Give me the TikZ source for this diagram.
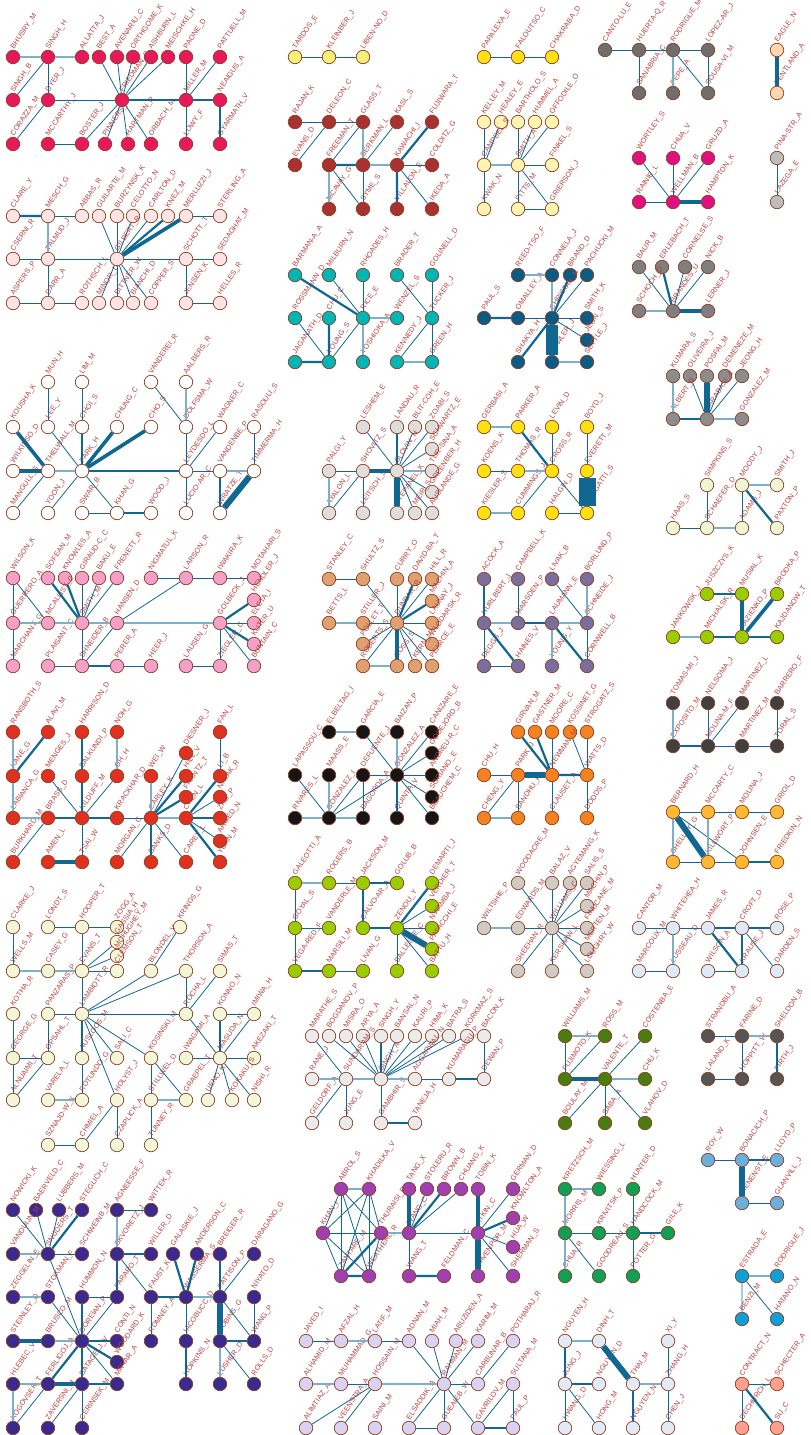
\documentclass[tikz,border=0pt]{standalone}
\usepackage{fontspec}
\setmainfont{Liberation Sans}
\definecolor{ndraw}{RGB}{140,62,30}
\definecolor{labcol}{RGB}{186,62,62}
\definecolor{edgec}{RGB}{16,104,146}
\definecolor{edgep}{RGB}{124,176,200}
\definecolor{crimson}{RGB}{232,25,90}
\definecolor{pinkpale}{RGB}{255,228,230}
\definecolor{lemon}{RGB}{244,238,122}
\definecolor{gold}{RGB}{255,224,16}
\definecolor{greyE}{RGB}{110,110,110}
\definecolor{peach}{RGB}{255,216,176}
\definecolor{darkred}{RGB}{168,50,50}
\definecolor{cream}{RGB}{255,244,176}
\definecolor{magenta}{RGB}{224,16,127}
\definecolor{greyJ}{RGB}{189,189,189}
\definecolor{cyanK}{RGB}{0,181,181}
\definecolor{navyL}{RGB}{10,92,133}
\definecolor{greyM}{RGB}{127,127,127}
\definecolor{pinkO}{RGB}{245,160,200}
\definecolor{greyP}{RGB}{222,222,222}
\definecolor{greyR}{RGB}{140,140,140}
\definecolor{mintS}{RGB}{238,247,213}
\definecolor{lime}{RGB}{154,205,0}
\definecolor{tan}{RGB}{224,160,112}
\definecolor{mauve}{RGB}{122,110,158}
\definecolor{redW}{RGB}{224,48,32}
\definecolor{creamX}{RGB}{243,247,217}
\definecolor{blackY}{RGB}{21,21,21}
\definecolor{orangeZ}{RGB}{245,130,32}
\definecolor{greyAA}{RGB}{64,64,64}
\definecolor{amber}{RGB}{255,184,51}
\definecolor{iceblue}{RGB}{220,235,247}
\definecolor{stone}{RGB}{207,203,197}
\definecolor{greyAF}{RGB}{235,235,235}
\definecolor{forest}{RGB}{74,125,16}
\definecolor{greyAH}{RGB}{85,85,85}
\definecolor{indigo}{RGB}{58,42,144}
\definecolor{purple}{RGB}{160,64,176}
\definecolor{green}{RGB}{16,160,85}
\definecolor{lavender}{RGB}{218,210,242}
\definecolor{paleblue}{RGB}{226,234,247}
\definecolor{steel}{RGB}{106,176,218}
\definecolor{azure}{RGB}{16,160,216}
\definecolor{salmon}{RGB}{255,159,143}

\begin{document}
\catcode`\_=12
\begin{tikzpicture}[x=1pt, y=-1pt,
  au/.style={circle, draw=ndraw, line width=0.7pt, fill=#1,
    minimum size=13.5pt, inner sep=0pt},
  lab/.style={rotate=56, anchor=south west, inner sep=0pt,
    font=\fontsize{7.3}{7.3}\selectfont, text=labcol},
  e/.style={draw=edgec, line width=0.8pt},
  ep/.style={draw=edgep, line width=1.6pt},
  ew/.style={draw=edgec, line width=2.2pt},
  ewx/.style={draw=edgec, line width=3.6pt},
  ewxx/.style={draw=edgec, line width=6pt}
]
\useasboundingbox (0,0) rectangle (811,1435);

% ---- crimson group
\foreach \n/\x/\y in {BHUSRY_M/13/57, SINGH_H/48/57, ALLATTA_J/82/57, BEST_A/99/57,
  AVENARIU_C/117/57, ORTHGOME_K/133/57, ASHBURN_L/151/57, MEISCHKE_H/168/57,
  PAONE_D/186/57, PATTUELL_M/220/57, SINGH_B/13/100, DYER_J/48/100,
  FRIEDMAN_S/122/100, MILLER_M/186/100, NEAIGUS_A/220/100, CORAZZA_M/13/144,
  MCCARTHY_J/48/144, BOSTER_J/82/144, PINNERS_L/105/144, HARTMAN_R/128/144,
  ORBACH_M/151/144, LOWY_F/186/144, GYARMATH_V/220/144}
  \node[au=crimson, label={[lab]70:\n}] (\n) at (\x,\y) {};
\foreach \a/\b in {SINGH_H/SINGH_B, SINGH_H/DYER_J, DYER_J/CORAZZA_M, DYER_J/FRIEDMAN_S,
  FRIEDMAN_S/BEST_A, FRIEDMAN_S/AVENARIU_C, FRIEDMAN_S/ORTHGOME_K, FRIEDMAN_S/ASHBURN_L,
  FRIEDMAN_S/MEISCHKE_H, FRIEDMAN_S/BOSTER_J, FRIEDMAN_S/PINNERS_L, FRIEDMAN_S/HARTMAN_R,
  FRIEDMAN_S/ORBACH_M, MCCARTHY_J/BOSTER_J, PAONE_D/MILLER_M, MILLER_M/PATTUELL_M,
  MILLER_M/LOWY_F}
  \draw[e] (\a) -- (\b);
\foreach \a/\b in {BHUSRY_M/SINGH_H, SINGH_H/ALLATTA_J} \draw[ep] (\a) -- (\b);
\foreach \a/\b in {FRIEDMAN_S/MILLER_M, MILLER_M/NEAIGUS_A, NEAIGUS_A/GYARMATH_V}
  \draw[ew] (\a) -- (\b);

% ---- pale pink group
\foreach \n/\x/\y in {CLARE_Y/13/216, MESCH_G/48/216, ABBAS_R/82/216, GUILARTE_M/99/216,
  BURZYNSK_K/117/216, CELOTTO_N/133/216, CARLTON_D/151/216, KNEZ_M/168/216,
  MERLUZZI_J/186/216, STERLING_A/220/216, CSERNI_R/13/259, TALMUD_J/48/259,
  GILBERT_R/117/259, SCHOTT_T/186/259, SEDAGHAT_M/220/259, ASPERS_P/13/303,
  DARR_A/48/303, ROTHSCH_L/82/303, MINOR_D/99/303, BITTNER_W/117/303,
  BIANCHI_D/133/303, COPPER_S/151/303, JENSEN_K/186/303, HELLES_R/220/303}
  \node[au=pinkpale, label={[lab]70:\n}] (\n) at (\x,\y) {};
\foreach \a/\b in {MESCH_G/ABBAS_R, CSERNI_R/TALMUD_J, TALMUD_J/GILBERT_R, TALMUD_J/DARR_A,
  ASPERS_P/DARR_A, DARR_A/ROTHSCH_L, GILBERT_R/GUILARTE_M, GILBERT_R/BURZYNSK_K,
  GILBERT_R/CELOTTO_N, GILBERT_R/CARLTON_D, GILBERT_R/SCHOTT_T, GILBERT_R/MINOR_D,
  GILBERT_R/BITTNER_W, GILBERT_R/BIANCHI_D, GILBERT_R/COPPER_S, MERLUZZI_J/STERLING_A,
  SCHOTT_T/SEDAGHAT_M, SCHOTT_T/JENSEN_K, JENSEN_K/HELLES_R}
  \draw[e] (\a) -- (\b);
\draw[ep] (MESCH_G) -- (TALMUD_J);
\draw[ew] (CLARE_Y) -- (MESCH_G) (GILBERT_R) -- (KNEZ_M);
\draw[ewx] (GILBERT_R) -- (MERLUZZI_J);

% ---- small top groups
\foreach \n/\x/\y in {TARDOS_E/295/57, KLEINBER_J/329/57, LIBEN-NO_D/363/57}
  \node[au=lemon, label={[lab]70:\n}] (\n) at (\x,\y) {};
\draw[e] (TARDOS_E) -- (KLEINBER_J) (KLEINBER_J) -- (LIBEN-NO_D);
\foreach \n/\x/\y in {PAPALEXA_E/484/57, FALOUTSO_C/518/57, CHAKRABA_D/552/57}
  \node[au=gold, label={[lab]70:\n}] (\n) at (\x,\y) {};
\draw[e] (PAPALEXA_E) -- (FALOUTSO_C) (FALOUTSO_C) -- (CHAKRABA_D);
\foreach \n/\x/\y in {CANTO-LU_E/605/50, HUERTA-Q_R/639/50, RODRIGUE_M/673/50,
  LOPEZ-AR_J/708/50, SANABRIA_C/639/93, PEPE_A/673/93, SOUSA-VI_M/708/93}
  \node[au=greyE, label={[lab]70:\n}] (\n) at (\x,\y) {};
\foreach \a/\b in {CANTO-LU_E/HUERTA-Q_R, HUERTA-Q_R/RODRIGUE_M, RODRIGUE_M/LOPEZ-AR_J,
  HUERTA-Q_R/SANABRIA_C, RODRIGUE_M/SOUSA-VI_M, LOPEZ-AR_J/SOUSA-VI_M}
  \draw[e] (\a) -- (\b);
\draw[ep] (RODRIGUE_M) -- (PEPE_A);
\foreach \n/\x/\y in {EAGLE_N/777/50, PENTLAND_A/777/93}
  \node[au=peach, label={[lab]70:\n}] (\n) at (\x,\y) {};
\draw[ewx] (EAGLE_N) -- (PENTLAND_A);

% ---- dark red group
\foreach \n/\x/\y in {RAJAN_K/295/122, DELEON_C/329/122, GLASS_T/363/122, KASL_S/397/122,
  FUJIWARA_T/432/122, EVANS_D/295/165, FREEMAN_T/329/165, BERKMAN_L/363/165,
  KAWACHI_I/397/165, COLDITZ_G/432/165, MCAVAY_G/329/209, SYME_S/363/209,
  VILLALON_E/397/209, IKEDA_A/432/209}
  \node[au=darkred, label={[lab]70:\n}] (\n) at (\x,\y) {};
\foreach \a/\b in {RAJAN_K/DELEON_C, DELEON_C/GLASS_T, DELEON_C/EVANS_D, GLASS_T/FREEMAN_T,
  FREEMAN_T/SYME_S, BERKMAN_L/SYME_S, BERKMAN_L/KASL_S, KAWACHI_I/COLDITZ_G,
  KAWACHI_I/IKEDA_A}
  \draw[e] (\a) -- (\b);
\foreach \a/\b in {GLASS_T/BERKMAN_L, FREEMAN_T/MCAVAY_G, BERKMAN_L/KAWACHI_I}
  \draw[ep] (\a) -- (\b);
\draw[ew] (FREEMAN_T) -- (BERKMAN_L) (KAWACHI_I) -- (FUJIWARA_T) (KAWACHI_I) -- (VILLALON_E);

% ---- cream group
\foreach \n/\x/\y in {KELLEY_M/484/122, HEALEY_E/501/122, BARTHOLO_S/518/122,
  HUMMEL_A/535/122, OFFODILE_O/552/122, CAMPBEL_S/484/165, SMITH_A/518/165,
  FINKEL_S/552/165, KWAK_N/484/209, PITTS_M/518/209, GRIERSON_J/552/209}
  \node[au=cream, label={[lab]70:\n}] (\n) at (\x,\y) {};
\foreach \a/\b in {KELLEY_M/CAMPBEL_S, CAMPBEL_S/HEALEY_E, CAMPBEL_S/KWAK_N,
  BARTHOLO_S/SMITH_A, SMITH_A/HUMMEL_A, SMITH_A/OFFODILE_O, SMITH_A/FINKEL_S,
  SMITH_A/PITTS_M, SMITH_A/GRIERSON_J, PITTS_M/GRIERSON_J}
  \draw[e] (\a) -- (\b);
\draw[ep] (CAMPBEL_S) -- (SMITH_A);

% ---- magenta and grey pairs
\foreach \n/\x/\y in {WORTLEY_S/639/158, CHUA_V/673/158, GRUZD_A/708/158,
  RAINIE_L/639/202, WELLMAN_B/673/202, HAMPTON_K/708/202}
  \node[au=magenta, label={[lab]70:\n}] (\n) at (\x,\y) {};
\foreach \a/\b in {WELLMAN_B/WORTLEY_S, WELLMAN_B/CHUA_V, WELLMAN_B/GRUZD_A,
  WELLMAN_B/RAINIE_L}
  \draw[e] (\a) -- (\b);
\draw[ewx] (WELLMAN_B) -- (HAMPTON_K);
\foreach \n/\x/\y in {PINA-STR_A/777/158, LAZEGA_E/777/202}
  \node[au=greyJ, label={[lab]70:\n}] (\n) at (\x,\y) {};
\draw[e] (PINA-STR_A) -- (LAZEGA_E);

% ---- cyan group
\foreach \n/\x/\y in {BARMAN-A_A/295/275, MILBURN_N/329/275, RHOADES_H/363/275,
  BRADER_T/397/275, GOLINELL_D/432/275, ROSSMANN_D/295/318, CHU_C/329/318,
  RICE_E/363/318, WENZEL_S/397/318, TUCKER_J/432/318, JAGANATH_D/295/362,
  YOUNG_S/329/362, YOSHIOKA_A/363/362, KENNEDY_J/397/362, GREEN_H/432/362}
  \node[au=cyanK, label={[lab]70:\n}] (\n) at (\x,\y) {};
\foreach \a/\b in {MILBURN_N/RICE_E, RHOADES_H/RICE_E, BRADER_T/TUCKER_J,
  GOLINELL_D/TUCKER_J, ROSSMANN_D/YOUNG_S, YOUNG_S/RICE_E, KENNEDY_J/TUCKER_J,
  TUCKER_J/GREEN_H}
  \draw[e] (\a) -- (\b);
\foreach \a/\b in {RICE_E/WENZEL_S, RICE_E/YOSHIOKA_A, KENNEDY_J/GREEN_H}
  \draw[ep] (\a) -- (\b);
\draw[ew] (BARMAN-A_A) -- (RICE_E) (CHU_C) -- (YOUNG_S) (JAGANATH_D) -- (YOUNG_S);

% ---- navy group
\foreach \n/\x/\y in {REED-TSO_F/518/275, CONNELA_J/552/275, BRAND_D/570/275,
  PACHUCKI_M/587/275, PAUL_S/484/318, OMALLEY_A/518/318, CHRISTAK_N/552/318,
  SMITH_K/587/318, JEON_S/587/340, SHAKYA_H/518/362, FOWLER_J/552/362, SETTLE_J/587/362}
  \node[au=navyL, label={[lab]70:\n}] (\n) at (\x,\y) {};
\foreach \a/\b in {CHRISTAK_N/PACHUCKI_M, OMALLEY_A/CHRISTAK_N, CHRISTAK_N/SMITH_K,
  CHRISTAK_N/JEON_S}
  \draw[e] (\a) -- (\b);
\foreach \a/\b in {REED-TSO_F/CONNELA_J, CONNELA_J/CHRISTAK_N, FOWLER_J/SETTLE_J}
  \draw[ep] (\a) -- (\b);
\draw[ew] (PAUL_S) -- (OMALLEY_A) (CHRISTAK_N) -- (BRAND_D) (SHAKYA_H) -- (CHRISTAK_N);
\draw[e, line width=12pt] (CHRISTAK_N) -- (FOWLER_J);

% ---- grey brandes group
\foreach \n/\x/\y in {BAUR_M/639/267, ERLEBACH_T/662/267, CORNELSE_S/685/267,
  NICK_B/708/267, SCHOCH_D/639/311, BRANDES_U/673/311, LERNER_J/708/311}
  \node[au=greyM, label={[lab]70:\n}] (\n) at (\x,\y) {};
\foreach \a/\b in {BRANDES_U/BAUR_M, BRANDES_U/CORNELSE_S, BRANDES_U/NICK_B}
  \draw[e] (\a) -- (\b);
\draw[ep] (BRANDES_U) -- (SCHOCH_D);
\draw[ew] (BRANDES_U) -- (ERLEBACH_T);
\draw[ewx] (BRANDES_U) -- (LERNER_J);

% ---- white group
\foreach \n/\x/\y in {MUN_H/48/382, LIM_M/82/382, VANDEREI_R/151/382, AALBERS_R/186/382,
  KOUSHA_K/13/427, LEE_Y/48/427, CHOI_S/82/427, CHUNG_C/117/427, CHO_S/151/427,
  DOLFSMA_W/186/427, WAGNER_C/220/427, RASOULI_S/254/427, WILKINSO_D/13/471,
  THELWALL_M/48/471, PARK_H/82/471, LEYDESDO_L/186/471, VANDENBE_P/220/471,
  TIMMERMA_H/254/471, MANGULL_S/13/513, YOON_J/48/513, SWAR_B/82/513, KHAN_G/117/513,
  WOOD_J/151/513, LUCIO-AR_C/186/513, WRATZE_T/220/513}
  \node[au=white, label={[lab]70:\n}] (\n) at (\x,\y) {};
\foreach \a/\b in {MUN_H/LEE_Y, LEE_Y/PARK_H, LIM_M/CHOI_S, MANGULL_S/THELWALL_M,
  YOON_J/PARK_H, PARK_H/KHAN_G, SWAR_B/KHAN_G, VANDEREI_R/DOLFSMA_W, DOLFSMA_W/LEYDESDO_L,
  LEYDESDO_L/WAGNER_C, LEYDESDO_L/VANDENBE_P, LEYDESDO_L/LUCIO-AR_C, RASOULI_S/TIMMERMA_H}
  \draw[e] (\a) -- (\b);
\foreach \a/\b in {THELWALL_M/PARK_H, AALBERS_R/DOLFSMA_W, VANDENBE_P/TIMMERMA_H}
  \draw[ep] (\a) -- (\b);
\foreach \a/\b in {CHOI_S/PARK_H, KHAN_G/WOOD_J, PARK_H/LEYDESDO_L, VANDENBE_P/WRATZE_T}
  \draw[ew] (\a) -- (\b);
\foreach \a/\b in {KOUSHA_K/THELWALL_M, WILKINSO_D/THELWALL_M, CHUNG_C/PARK_H, CHO_S/PARK_H}
  \draw[ewx] (\a) -- (\b);
\draw[ewxx] (TIMMERMA_H) -- (WRATZE_T);

% ---- pink group
\foreach \n/\x/\y in {WILSON_K/13/578, SOFEAN_M/48/578, KNOWLES_A/65/578,
  GIRAUD-C_C/82/578, BAKU_E/99/578, FRENETT_R/117/578, NIGMATUL_K/151/578,
  LARSON_R/186/578, IWAKIRA_K/220/578, MOTAHARI_S/254/578, HENDLER_J/254/600,
  GUERRERO_A/13/623, MCALLIST_C/48/623, SMITH_M/82/623, HANSEN_D/117/623,
  GOLBECK_J/220/623, ELETA_I/254/623, KUTER_U/254/644, MARCHANT_G/13/666,
  PLAISANT_C/48/666, SHNEIDER_B/82/666, PERER_A/117/666, HEER_J/151/666,
  LAUSEN_G/186/666, ZIEGLER_C/220/666, BUNTAIN_C/254/666}
  \node[au=pinkO, label={[lab]70:\n}] (\n) at (\x,\y) {};
\foreach \a/\b in {WILSON_K/GUERRERO_A, WILSON_K/MCALLIST_C, GUERRERO_A/MARCHANT_G,
  GIRAUD-C_C/SMITH_M, BAKU_E/SMITH_M, FRENETT_R/SMITH_M, SMITH_M/SHNEIDER_B,
  PLAISANT_C/SHNEIDER_B, PERER_A/HEER_J, SHNEIDER_B/HANSEN_D, HANSEN_D/LARSON_R,
  NIGMATUL_K/LARSON_R, LARSON_R/IWAKIRA_K, IWAKIRA_K/MOTAHARI_S, GOLBECK_J/ELETA_I,
  GOLBECK_J/BUNTAIN_C, GOLBECK_J/ZIEGLER_C, LAUSEN_G/ZIEGLER_C}
  \draw[e] (\a) -- (\b);
\foreach \a/\b in {GUERRERO_A/MCALLIST_C, MCALLIST_C/SMITH_M, SMITH_M/HANSEN_D,
  HANSEN_D/GOLBECK_J}
  \draw[ep] (\a) -- (\b);
\foreach \a/\b in {SOFEAN_M/SMITH_M, KNOWLES_A/SMITH_M, SHNEIDER_B/PERER_A,
  GOLBECK_J/HENDLER_J, GOLBECK_J/KUTER_U}
  \draw[ew] (\a) -- (\b);

% ---- light grey group
\foreach \n/\x/\y in {LESHEM_E/363/427, LANDAU_R/397/427, BLIT-COH_E/415/427,
  ZOABI_S/432/427, SCHWARTZ_E/432/449, PALGI_Y/329/471, SHOVITZ_S/363/471,
  SLOVIN_H/397/471, TUR-SINA_A/432/471, GREENBER_H/432/492, AYALON_L/329/513,
  LEITSCH_S/363/513, STEPANEL_K/397/513, MEIR_S/415/513, AUSLANDE_G/432/513}
  \node[au=greyP, label={[lab]70:\n}] (\n) at (\x,\y) {};
\foreach \a/\b in {PALGI_Y/SHOVITZ_S, SHOVITZ_S/AYALON_L, SHOVITZ_S/LEITSCH_S,
  LESHEM_E/SLOVIN_H, BLIT-COH_E/SLOVIN_H, ZOABI_S/SLOVIN_H, SCHWARTZ_E/SLOVIN_H,
  GREENBER_H/SLOVIN_H, SLOVIN_H/MEIR_S, SLOVIN_H/AUSLANDE_G}
  \draw[e] (\a) -- (\b);
\draw[ep] (PALGI_Y) -- (AYALON_L) (SLOVIN_H) -- (TUR-SINA_A);
\draw[ewx] (SHOVITZ_S) -- (SLOVIN_H);
\draw[ew] (LANDAU_R) -- (SLOVIN_H);
\draw[ewxx] (SLOVIN_H) -- (STEPANEL_K);

% ---- yellow group
\foreach \n/\x/\y in {GERBASI_A/484/427, PARKER_A/518/427, LEVIN_D/552/427,
  BOYD_J/587/427, KOENS_K/484/471, THOMAS_R/518/471, CROSS_R/552/471,
  EVERETT_M/587/471, KIESLER_S/484/513, CUMMINGS_J/518/513, HALGIN_D/552/513,
  BORGATTI_S/587/513}
  \node[au=gold, label={[lab]70:\n}] (\n) at (\x,\y) {};
\foreach \a/\b in {LEVIN_D/CROSS_R, KOENS_K/THOMAS_R, CROSS_R/CUMMINGS_J,
  CROSS_R/BORGATTI_S, HALGIN_D/BORGATTI_S, BOYD_J/EVERETT_M}
  \draw[e] (\a) -- (\b);
\foreach \a/\b in {GERBASI_A/PARKER_A, THOMAS_R/CROSS_R, KIESLER_S/CUMMINGS_J}
  \draw[ep] (\a) -- (\b);
\draw[ew] (PARKER_A) -- (CROSS_R);
\draw[e, line width=17pt] (EVERETT_M) -- (BORGATTI_S);

% ---- grey barabasi group
\foreach \n/\x/\y in {KUMARA_S/673/376, OLIVEIRA_J/690/376, POSFAI_M/707/376,
  DEMENEZE_M/725/376, JEONG_H/742/376, ALBERT_R/673/419, BARABASI_A/707/419,
  GONZALEZ_M/742/419}
  \node[au=greyR, label={[lab]70:\n}] (\n) at (\x,\y) {};
\foreach \a/\b in {OLIVEIRA_J/BARABASI_A, DEMENEZE_M/BARABASI_A, JEONG_H/BARABASI_A}
  \draw[e] (\a) -- (\b);
\draw[ep] (KUMARA_S) -- (ALBERT_R) (BARABASI_A) -- (GONZALEZ_M);
\draw[ew] (ALBERT_R) -- (BARABASI_A);
\draw[ewxx] (POSFAI_M) -- (BARABASI_A);

% ---- mint group
\foreach \n/\x/\y in {SIMPKINS_S/707/485, MOODY_J/742/485, SMITH_J/777/485,
  HAAS_S/673/528, SCHAEFER_D/707/528, ADAMS_J/742/528, PAXTON_P/777/528}
  \node[au=mintS, label={[lab]70:\n}] (\n) at (\x,\y) {};
\draw[e] (SIMPKINS_S) -- (SCHAEFER_D) (MOODY_J) -- (ADAMS_J) (HAAS_S) -- (SCHAEFER_D);
\draw[ep] (MOODY_J) -- (SMITH_J) (SCHAEFER_D) -- (ADAMS_J);
\draw[ew] (MOODY_J) -- (PAXTON_P);

% ---- lime kazienko group
\foreach \n/\x/\y in {JUSZCZYS_K/707/594, MUSIAL_K/742/594, BRODKA_P/777/594,
  JANKOWSK_J/673/637, MICHALSK_R/707/637, KAZIENKO_P/742/637, KAJDANOW_T/777/637}
  \node[au=lime, label={[lab]70:\n}] (\n) at (\x,\y) {};
\draw[ep] (JANKOWSK_J) -- (MICHALSK_R);
\draw[ew] (JUSZCZYS_K) -- (MUSIAL_K) (MICHALSK_R) -- (KAZIENKO_P) (KAZIENKO_P) -- (KAJDANOW_T);
\draw[ewx] (MUSIAL_K) -- (KAZIENKO_P) (KAZIENKO_P) -- (BRODKA_P);

% ---- tan group
\foreach \n/\x/\y in {STANLEY_C/329/579, SHULTZ_S/363/579, CURRY_O/397/579,
  DAVID-BA_T/415/579, HILL_R/432/579, MACHIN_A/432/601, BETTS_L/329/623,
  STILLER_J/363/623, DUNBAR_R/397/623, LAUNAY_J/432/623, POLLET_T/363/644,
  WLODARSK_R/432/644, ROBERTS_S/363/666, ROSS_S/397/666, KERN_M/415/666,
  PEARCE_E/432/666}
  \node[au=tan, label={[lab]70:\n}] (\n) at (\x,\y) {};
\foreach \a/\b in {STANLEY_C/SHULTZ_S, SHULTZ_S/DUNBAR_R, CURRY_O/DUNBAR_R, HILL_R/DUNBAR_R,
  STILLER_J/DUNBAR_R, DUNBAR_R/LAUNAY_J, DUNBAR_R/POLLET_T, DUNBAR_R/WLODARSK_R,
  DUNBAR_R/KERN_M, DUNBAR_R/PEARCE_E, DUNBAR_R/ROBERTS_S}
  \draw[e] (\a) -- (\b);
\draw[ep] (BETTS_L) -- (STILLER_J);
\draw[ep, line width=2.6pt] (ROBERTS_S) -- (ROSS_S);
\draw[ew] (DAVID-BA_T) -- (DUNBAR_R) (MACHIN_A) -- (DUNBAR_R);
\draw[ewx] (DUNBAR_R) -- (ROSS_S);

% ---- mauve group
\foreach \n/\x/\y in {ACOCK_A/484/579, CAMPBELL_K/518/579, LIVAK_B/552/579,
  BORLUND_P/587/579, HURLBERT_J/484/623, MARSDEN_P/518/623, LAUMANN_E/552/623,
  SCHNEIDE_J/587/623, BEGGS_J/484/666, HAINES_V/518/666, YOUNG_Y/552/666,
  CORNWELL_B/587/666}
  \node[au=mauve, label={[lab]70:\n}] (\n) at (\x,\y) {};
\foreach \a/\b in {CAMPBELL_K/MARSDEN_P, LIVAK_B/SCHNEIDE_J, HURLBERT_J/BEGGS_J,
  BEGGS_J/HAINES_V, SCHNEIDE_J/CORNWELL_B}
  \draw[e] (\a) -- (\b);
\foreach \a/\b in {HURLBERT_J/MARSDEN_P, LAUMANN_E/SCHNEIDE_J, BORLUND_P/SCHNEIDE_J,
  LAUMANN_E/YOUNG_Y}
  \draw[ep] (\a) -- (\b);
\foreach \a/\b in {ACOCK_A/HURLBERT_J, MARSDEN_P/LAUMANN_E, HURLBERT_J/HAINES_V,
  LAUMANN_E/CORNWELL_B}
  \draw[ew] (\a) -- (\b);

% ---- red group
\foreach \n/\x/\y in {RANSBOTH_S/13/732, ALAVI_M/48/732, HARRISON_D/82/732, NOH_G/117/732,
  FAN_L/220/732, DIESNER_J/186/753, KANE_G/13/776, MENGES_J/48/776, BALKUNDI_P/82/776,
  OH_H/117/776, WEI_W/151/776, HILL_V/186/776, LI_B/220/776, FRANTZ_T/186/797,
  NAYAK_R/220/797, LABIANCA_G/13/818, BRASS_D/48/818, KILDUFF_M/82/818,
  KRACKHAR_D/117/818, CARLEY_K/151/818, CHEN_L/186/818, ZHU_P/220/818,
  AHMED_N/220/841, BURKHARD_M/13/862, AMEN_L/48/862, TSAI_W/82/862,
  MORGAN_C/117/862, BANKS_D/151/862, CAREY_L/186/862, YUAN_M/220/862}
  \node[au=redW, label={[lab]70:\n}] (\n) at (\x,\y) {};
\foreach \a/\b in {MENGES_J/KILDUFF_M, OH_H/KILDUFF_M, KILDUFF_M/TSAI_W, BRASS_D/BURKHARD_M,
  KRACKHAR_D/CARLEY_K, CARLEY_K/DIESNER_J, CARLEY_K/MORGAN_C, CARLEY_K/CAREY_L,
  FAN_L/LI_B, CHEN_L/NAYAK_R, CHEN_L/AHMED_N}
  \draw[e] (\a) -- (\b);
\foreach \a/\b in {RANSBOTH_S/KANE_G, KANE_G/LABIANCA_G, LABIANCA_G/BRASS_D, NOH_G/OH_H,
  CARLEY_K/WEI_W, CARLEY_K/CHEN_L}
  \draw[ep] (\a) -- (\b);
\foreach \a/\b in {ALAVI_M/KANE_G, HARRISON_D/BALKUNDI_P, BALKUNDI_P/KILDUFF_M,
  BRASS_D/KILDUFF_M, KILDUFF_M/KRACKHAR_D, CARLEY_K/HILL_V, CARLEY_K/FRANTZ_T,
  CARLEY_K/BANKS_D, CHEN_L/LI_B, CHEN_L/ZHU_P, CHEN_L/YUAN_M}
  \draw[ew] (\a) -- (\b);
\draw[ewx] (AMEN_L) -- (TSAI_W);

% ---- cream lambiotte group
\foreach \n/\x/\y in {CLARKE_J/13/927, LONDT_S/48/927, HOOPER_T/82/927, ZOGG_A/117/927,
  GASSIA_H/117/942, MCHUGHEY_M/117/956, CLEMSON_T/117/971, KRINGS_G/180/927,
  WELLS_M/13/971, CASEY_G/48/971, EVANS_T/82/971, BLONDEL_V/151/971,
  THORSON_A/186/971, SIMAS_T/220/971, KOTHA_R/13/1014, PANZARAS_P/48/1014,
  LAMBIOTT_R/82/1014, ROCHA_L/186/1014, KONNO_N/220/1014, IMIWA_H/254/1014,
  GEORGE_G/13/1058, OPSAHL_T/48/1058, AUSLOOS_M/82/1058, SALI_C/117/1058,
  KOSINSKI_M/151/1058, IWAGAMI_A/186/1058, MASUDA_N/220/1058, AKEZAKI_T/254/1058,
  ALNUAIMI_T/13/1100, VARELA_L/48/1100, ROTUNDO_G/82/1100, HOLYST_J/117/1100,
  STILLWEL_D/151/1100, GRAEPEL_T/186/1100, UENO_K/208/1100, KOKAKU_S/232/1100,
  NISHI_R/254/1100, SZNAJD-W_K/48/1145, CHMIEL_A/82/1145, CZAPLICK_A/117/1145,
  TUNNEY_R/151/1145}
  \node[au=creamX, label={[lab]70:\n}] (\n) at (\x,\y) {};
\foreach \a/\b in {CLARKE_J/WELLS_M, LONDT_S/HOOPER_T, HOOPER_T/ZOGG_A, HOOPER_T/EVANS_T,
  EVANS_T/GASSIA_H, EVANS_T/MCHUGHEY_M, EVANS_T/CLEMSON_T, EVANS_T/LAMBIOTT_R,
  KRINGS_G/BLONDEL_V, LAMBIOTT_R/BLONDEL_V, LAMBIOTT_R/THORSON_A, THORSON_A/ROCHA_L,
  SIMAS_T/ROCHA_L, LAMBIOTT_R/ROCHA_L, LAMBIOTT_R/PANZARAS_P, PANZARAS_P/OPSAHL_T,
  KOTHA_R/GEORGE_G, GEORGE_G/OPSAHL_T, GEORGE_G/ALNUAIMI_T, OPSAHL_T/ALNUAIMI_T,
  LAMBIOTT_R/SALI_C, LAMBIOTT_R/KOSINSKI_M, LAMBIOTT_R/HOLYST_J, AUSLOOS_M/ROTUNDO_G,
  KOSINSKI_M/STILLWEL_D, KOSINSKI_M/GRAEPEL_T, ROCHA_L/MASUDA_N, KONNO_N/IMIWA_H,
  IMIWA_H/MASUDA_N, IWAGAMI_A/MASUDA_N, MASUDA_N/AKEZAKI_T, MASUDA_N/UENO_K,
  MASUDA_N/KOKAKU_S, MASUDA_N/NISHI_R, STILLWEL_D/TUNNEY_R, HOLYST_J/CHMIEL_A,
  HOLYST_J/CZAPLICK_A, SZNAJD-W_K/CHMIEL_A}
  \draw[e] (\a) -- (\b);
\foreach \a/\b in {WELLS_M/CASEY_G, CASEY_G/EVANS_T, STILLWEL_D/GRAEPEL_T, VARELA_L/ROTUNDO_G}
  \draw[ep] (\a) -- (\b);
\draw[ew] (LAMBIOTT_R) -- (AUSLOOS_M) (KONNO_N) -- (MASUDA_N);

% ---- black group
\foreach \n/\x/\y in {ELBELTAG_I/329/732, GARCIA_E/363/732, BAIZAN_P/397/732,
  CANIZARE_E/432/732, GODEJORD_B/432/753, LAPASSOU_C/295/775, MAASS_E/329/775,
  DEFUENTE_J/363/775, GONZALEZ_A/397/775, ANDREU-R_C/432/775, SORIANO_E/432/797,
  RIVARES_L/295/818, GONZALEZ_I/329/818, BAGORDA_A/363/818, QUINTA_V/397/818,
  BEAUCHEM_C/432/818}
  \node[au=blackY, label={[lab]70:\n}] (\n) at (\x,\y) {};
\foreach \a/\b in {GARCIA_E/GONZALEZ_A, CANIZARE_E/GONZALEZ_A, GODEJORD_B/GONZALEZ_A,
  DEFUENTE_J/GONZALEZ_A, ANDREU-R_C/GONZALEZ_A, SORIANO_E/GONZALEZ_A,
  GONZALEZ_A/BEAUCHEM_C, LAPASSOU_C/GONZALEZ_I, GONZALEZ_I/DEFUENTE_J,
  GONZALEZ_I/GONZALEZ_A, DEFUENTE_J/BAGORDA_A}
  \draw[e] (\a) -- (\b);
\foreach \a/\b in {ELBELTAG_I/GARCIA_E, BAIZAN_P/GONZALEZ_A, MAASS_E/GONZALEZ_I,
  RIVARES_L/GONZALEZ_I, GONZALEZ_I/BAGORDA_A}
  \draw[ep] (\a) -- (\b);
\draw[ew] (GONZALEZ_A) -- (QUINTA_V);

% ---- orange group
\foreach \n/\x/\y in {GIRVAN_M/518/732, GASTNER_M/535/732, MOORE_C/552/732,
  KOSSINET_G/570/732, STROGATZ_S/587/732, CHU_H/484/775, PARK_J/518/775,
  NEWMAN_M/552/775, WATTS_D/587/775, CHENG_Y/484/818, SANDHU_P/518/818,
  CLAUSET_A/552/818, DODDS_P/587/818}
  \node[au=orangeZ, label={[lab]70:\n}] (\n) at (\x,\y) {};
\foreach \a/\b in {MOORE_C/NEWMAN_M, KOSSINET_G/WATTS_D, STROGATZ_S/WATTS_D, CHU_H/PARK_J,
  PARK_J/SANDHU_P, PARK_J/CHENG_Y, NEWMAN_M/CLAUSET_A, WATTS_D/DODDS_P}
  \draw[e] (\a) -- (\b);
\draw[ep] (CHENG_Y) -- (SANDHU_P);
\draw[ew] (GIRVAN_M) -- (NEWMAN_M) (GASTNER_M) -- (NEWMAN_M) (NEWMAN_M) -- (WATTS_D);
\draw[ewxx] (PARK_J) -- (NEWMAN_M);

% ---- dark grey group
\foreach \n/\x/\y in {TOMAS-MI_J/673/703, NELSOMA_J/708/703, MARTINEZ_L/742/703,
  BARRERO_F/777/703, EXPOSITO_M/673/746, MOLINA-M_F/708/746, MARTINEZ_M/742/746,
  TORAL_S/777/746}
  \node[au=greyAA, label={[lab]70:\n}] (\n) at (\x,\y) {};
\foreach \a/\b in {NELSOMA_J/MOLINA-M_F, MARTINEZ_L/MOLINA-M_F, BARRERO_F/TORAL_S,
  MOLINA-M_F/MARTINEZ_M, MARTINEZ_M/TORAL_S}
  \draw[e] (\a) -- (\b);
\draw[ep] (TOMAS-MI_J) -- (EXPOSITO_M);
\draw[ew] (EXPOSITO_M) -- (MOLINA-M_F);

% ---- amber group
\foreach \n/\x/\y in {BERNARD_H/673/812, MCCARTY_C/708/812, MOLINA_J/742/812,
  GRIOL_D/777/812, SHELLEY_G/673/862, KILLWORT_P/708/862, JOHNSEN_E/742/862,
  FRIEDKIN_N/777/862}
  \node[au=amber, label={[lab]70:\n}] (\n) at (\x,\y) {};
\foreach \a/\b in {BERNARD_H/MCCARTY_C, MCCARTY_C/MOLINA_J, MOLINA_J/GRIOL_D,
  BERNARD_H/JOHNSEN_E, SHELLEY_G/KILLWORT_P, KILLWORT_P/JOHNSEN_E}
  \draw[e] (\a) -- (\b);
\draw[ep] (BERNARD_H) -- (SHELLEY_G) (MCCARTY_C) -- (KILLWORT_P);
\draw[ew] (JOHNSEN_E) -- (FRIEDKIN_N);
\draw[ewxx] (BERNARD_H) -- (KILLWORT_P);

% ---- ice blue group
\foreach \n/\x/\y in {CANTOR_M/639/928, WHITEHEA_H/673/928, JAMES_R/708/928,
  CROFT_D/742/928, ROSE_P/777/928, MARCOUX_M/639/971, LUSSEAU_D/673/971,
  WILSON_A/708/971, KRAUSE_J/742/971, DARDEN_S/777/971}
  \node[au=iceblue, label={[lab]70:\n}] (\n) at (\x,\y) {};
\foreach \a/\b in {CANTOR_M/WHITEHEA_H, WHITEHEA_H/JAMES_R, MARCOUX_M/LUSSEAU_D,
  WILSON_A/KRAUSE_J, CROFT_D/DARDEN_S}
  \draw[e] (\a) -- (\b);
\draw[ep] (WHITEHEA_H) -- (LUSSEAU_D);
\foreach \a/\b in {JAMES_R/CROFT_D, CROFT_D/ROSE_P, JAMES_R/KRAUSE_J, CROFT_D/KRAUSE_J}
  \draw[ew] (\a) -- (\b);

% ---- stone group
\foreach \n/\x/\y in {WOODACRE_M/518/883, BALAZ_V/552/883, AGYEMANG_K/570/883,
  SALIS_S/587/883, MACHIN_P/587/906, WILTSHIE_P/484/928, EDWARDS_M/518/928,
  WILLIAMS_C/552/928, FINUCANE_M/587/928, MERTEN_M/587/949, SHEEHAN_R/518/971,
  KERSHAW_L/552/971, LOUGHRY_W/587/971}
  \node[au=stone, label={[lab]70:\n}] (\n) at (\x,\y) {};
\foreach \b in {EDWARDS_M, WOODACRE_M, BALAZ_V, AGYEMANG_K, SALIS_S, MACHIN_P,
  FINUCANE_M, MERTEN_M, LOUGHRY_W, KERSHAW_L, SHEEHAN_R}
  \draw[e] (WILLIAMS_C) -- (\b);
\draw[ep] (WILTSHIE_P) -- (EDWARDS_M);

% ---- lime zenou group
\foreach \n/\x/\y in {GALEOTTI_A/295/883, ROGERS_B/329/883, JACKSON_M/363/883,
  GOLUB_B/397/883, DEMARTI_J/432/883, VERDIER_T/432/906, GOYAL_S/295/928,
  VANDERLE_M/329/928, CALVO-AR_A/363/928, ZENOU_Y/397/928, NWAMBA_J/432/928,
  PATACCHI_E/432/949, VEGA-RED_F/295/971, MARSILI_M/329/971, LIVAN_G/363/971,
  BALLESTE_C/397/971, BATTU_H/432/971}
  \node[au=lime, label={[lab]70:\n}] (\n) at (\x,\y) {};
\foreach \a/\b in {ROGERS_B/JACKSON_M, GALEOTTI_A/GOYAL_S, GOYAL_S/VANDERLE_M,
  GOYAL_S/VEGA-RED_F, MARSILI_M/LIVAN_G, ZENOU_Y/VERDIER_T, ZENOU_Y/NWAMBA_J,
  ZENOU_Y/BATTU_H, ZENOU_Y/BALLESTE_C}
  \draw[e] (\a) -- (\b);
\draw[ep] (GALEOTTI_A) -- (ROGERS_B);
\foreach \a/\b in {JACKSON_M/GOLUB_B, VEGA-RED_F/MARSILI_M, JACKSON_M/CALVO-AR_A,
  CALVO-AR_A/ZENOU_Y, ZENOU_Y/DEMARTI_J}
  \draw[ew] (\a) -- (\b);
\draw[ewxx] (ZENOU_Y) -- (PATACCHI_E);

% ---- very light grey group
\foreach \n/\x/\y in {MARATHE_S/312/1036, BOGDANOV_P/329/1036, MISRA_O/346/1036,
  ARYA_A/363/1036, SINGH_Y/381/1036, BANSAL_N/397/1036, KAURI_P/415/1036,
  HIMA_K/432/1036, BATRA_S/449/1036, KORKMAZ_S/467/1036, BACON_K/484/1036,
  RANE_J/312/1079, SUNDARAM_S/346/1079, SINGH_A/381/1079, AGGARWAL_N/415/1079,
  KUMARAGU_P/449/1079, DEWAN_P/484/1079, GELDORF_A/312/1123, JUNG_E/346/1123,
  GAMBHIR_S/381/1123, TANEJA_H/415/1123}
  \node[au=greyAF, label={[lab]70:\n}] (\n) at (\x,\y) {};
\foreach \a/\b in {MARATHE_S/SUNDARAM_S, BOGDANOV_P/SINGH_A, MISRA_O/SINGH_A,
  ARYA_A/SINGH_A, BANSAL_N/SINGH_A, KAURI_P/SINGH_A, HIMA_K/SINGH_A, BATRA_S/SINGH_A,
  KORKMAZ_S/SINGH_A, BACON_K/DEWAN_P, SUNDARAM_S/GELDORF_A, SUNDARAM_S/JUNG_E,
  SINGH_A/GAMBHIR_S, AGGARWAL_N/KUMARAGU_P}
  \draw[e] (\a) -- (\b);
\draw[ep] (RANE_J) -- (SUNDARAM_S) (SUNDARAM_S) -- (SINGH_A) (SINGH_A) -- (AGGARWAL_N);
\draw[ew] (SINGH_Y) -- (SINGH_A) (KUMARAGU_P) -- (DEWAN_P) (GAMBHIR_S) -- (TANEJA_H);

% ---- forest green group
\foreach \n/\x/\y in {WILLIAMS_M/565/1036, ROSS_M/605/1036, COSTENBA_E/645/1036,
  FUJIMOTO_K/565/1079, VALENTE_T/605/1079, CHU_K/645/1079, BOULAY_M/565/1123,
  SABA_A/605/1123, VLAHOV_D/645/1123}
  \node[au=forest, label={[lab]70:\n}] (\n) at (\x,\y) {};
\foreach \a/\b in {WILLIAMS_M/FUJIMOTO_K, FUJIMOTO_K/ROSS_M, VALENTE_T/COSTENBA_E,
  VALENTE_T/BOULAY_M, VALENTE_T/SABA_A, VALENTE_T/VLAHOV_D}
  \draw[e] (\a) -- (\b);
\draw[ep] (WILLIAMS_M) -- (ROSS_M) (VALENTE_T) -- (CHU_K);
\draw[ewx] (FUJIMOTO_K) -- (VALENTE_T);

% ---- grey farine group
\foreach \n/\x/\y in {STRANDBU_A/708/1036, FARINE_D/742/1036, SHELDON_B/777/1036,
  LALAND_K/708/1079, HOPPITT_W/742/1079, FIRTH_J/777/1079}
  \node[au=greyAH, label={[lab]70:\n}] (\n) at (\x,\y) {};
\draw[e] (STRANDBU_A) -- (FARINE_D) (FARINE_D) -- (HOPPITT_W) (LALAND_K) -- (HOPPITT_W);
\draw[ep] (FARINE_D) -- (SHELDON_B);
\draw[ew] (SHELDON_B) -- (FIRTH_J);

% ---- indigo group
\foreach \n/\x/\y in {NOWICKI_K/13/1210, BAERVELD_C/36/1210, LUBBERS_M/59/1210,
  STEGLICH_C/82/1210, AGNEESSE_F/117/1210, WITTEK_R/151/1210, VANDUIJN_M/13/1254,
  SNIJDERS_T/48/1254, SCHWEINB_M/82/1254, SKVORETZ_J/117/1254, WILLER_D/151/1254,
  GALASKIE_J/173/1254, ANDERSON_C/197/1254, BREIGER_R/220/1254, DARAGANO_G/254/1254,
  ZEGGELIN_E/13/1297, STOKMAN_F/48/1297, HUMMON_N/82/1297, FARARO_T/117/1297,
  FAUST_K/151/1297, WASSERMA_S/186/1297, PATTISON_P/220/1297, NIYATO_D/254/1297,
  STEINLEY_D/13/1341, BRUSCO_M/48/1341, DOREIAN_P/82/1341, CONTI_N/117/1341,
  ROMNEY_A/151/1341, IACOBUCC_D/186/1341, ROBINS_G/220/1341, WANG_P/254/1341,
  WOODARD_K/117/1362, HLEBEC_V/13/1384, FERLIGOJ_A/48/1384, BATAGELJ_V/82/1384,
  MRVAR_A/117/1384, HOPKINS_N/186/1384, LUSHER_D/220/1384, ROLLS_D/254/1384,
  KOGOVSEK_T/13/1428, ZAVERSNI_M/48/1428, CERINSEK_M/82/1428}
  \node[au=indigo, label={[lab]70:\n}] (\n) at (\x,\y) {};
\foreach \a/\b in {NOWICKI_K/SNIJDERS_T, BAERVELD_C/SNIJDERS_T, LUBBERS_M/SNIJDERS_T,
  SNIJDERS_T/SCHWEINB_M, SNIJDERS_T/DOREIAN_P, AGNEESSE_F/WITTEK_R, SKVORETZ_J/FAUST_K,
  HUMMON_N/FARARO_T, FARARO_T/DOREIAN_P, STOKMAN_F/DOREIAN_P, DOREIAN_P/MRVAR_A,
  FERLIGOJ_A/KOGOVSEK_T, BATAGELJ_V/ZAVERSNI_M, BATAGELJ_V/CERINSEK_M, FAUST_K/ROMNEY_A,
  WASSERMA_S/IACOBUCC_D, DARAGANO_G/PATTISON_P, PATTISON_P/WANG_P, NIYATO_D/WANG_P,
  ROBINS_G/ROLLS_D}
  \draw[e] (\a) -- (\b);
\foreach \a/\b in {VANDUIJN_M/SNIJDERS_T, ZEGGELIN_E/STOKMAN_F, AGNEESSE_F/SKVORETZ_J,
  BRUSCO_M/DOREIAN_P, HLEBEC_V/KOGOVSEK_T, WASSERMA_S/PATTISON_P, ROBINS_G/LUSHER_D}
  \draw[ep] (\a) -- (\b);
\draw[ep, line width=2.6pt] (HLEBEC_V) -- (FERLIGOJ_A);
\foreach \a/\b in {STEGLICH_C/SNIJDERS_T, SKVORETZ_J/WILLER_D, SKVORETZ_J/FARARO_T,
  HUMMON_N/DOREIAN_P, DOREIAN_P/CONTI_N, DOREIAN_P/WOODARD_K, DOREIAN_P/BATAGELJ_V,
  DOREIAN_P/FERLIGOJ_A, BATAGELJ_V/MRVAR_A, FAUST_K/WASSERMA_S, GALASKIE_J/WASSERMA_S,
  ANDERSON_C/WASSERMA_S, IACOBUCC_D/HOPKINS_N, BREIGER_R/PATTISON_P, ROBINS_G/WANG_P}
  \draw[ew] (\a) -- (\b);
\draw[ewx] (STEINLEY_D) -- (BRUSCO_M) (FERLIGOJ_A) -- (BATAGELJ_V);
\draw[ewxx] (PATTISON_P) -- (ROBINS_G);

% ---- purple group
\foreach \n/\x/\y in {ABROL_S/341/1189, KHADILKA_V/369/1189, TANG_X/409/1189,
  STOLERU_R/427/1189, BROWN_B/444/1189, CHUANG_K/461/1189, TOBIN_K/478/1189,
  GERMAN_D/513/1189, KNOWLTON_A/513/1218, KHAN_I/323/1233, THURAISI_B/381/1233,
  WANG_C/409/1233, ATKIN_C/478/1233, HUA_W/513/1247, ZANTARE_M/341/1276,
  WEATHERL_R/369/1276, WANG_T/409/1276, FELDMAN_C/444/1276, DAVENPOR_M/478/1276,
  SHERMAN_S/513/1276}
  \node[au=purple, label={[lab]70:\n}] (\n) at (\x,\y) {};
\foreach \a/\b in {KHAN_I/ABROL_S, KHAN_I/KHADILKA_V, KHAN_I/THURAISI_B, KHAN_I/ZANTARE_M,
  KHAN_I/WEATHERL_R, ABROL_S/THURAISI_B, ABROL_S/ZANTARE_M, ABROL_S/WEATHERL_R,
  KHADILKA_V/THURAISI_B, KHADILKA_V/ZANTARE_M, KHADILKA_V/WEATHERL_R,
  THURAISI_B/WEATHERL_R, STOLERU_R/WANG_C, CHUANG_K/WANG_C, WANG_C/ATKIN_C,
  WANG_C/WANG_T, GERMAN_D/ATKIN_C, HUA_W/ATKIN_C, SHERMAN_S/ATKIN_C}
  \draw[e] (\a) -- (\b);
\draw[ep] (ABROL_S) -- (KHADILKA_V) (THURAISI_B) -- (WANG_C);
\draw[ew] (ZANTARE_M) -- (THURAISI_B) (ZANTARE_M) -- (WEATHERL_R) (BROWN_B) -- (WANG_C)
  (WANG_T) -- (FELDMAN_C) (KNOWLTON_A) -- (ATKIN_C);
\draw[ewx] (TANG_X) -- (WANG_C) (TOBIN_K) -- (ATKIN_C);
\draw[ewxx] (ATKIN_C) -- (DAVENPOR_M);

% ---- green group
\foreach \n/\x/\y in {KRETZSCH_M/565/1189, WIESSING_L/599/1189, HUNTER_D/633/1189,
  MORRIS_M/565/1233, KRIVITSK_P/599/1233, HANDCOCK_M/633/1233, GILE_K/668/1233,
  CHUA_R/565/1276, GOODREAU_S/599/1276, POTTER_G/633/1276}
  \node[au=green, label={[lab]70:\n}] (\n) at (\x,\y) {};
\foreach \a/\b in {MORRIS_M/KRIVITSK_P, MORRIS_M/GOODREAU_S, KRIVITSK_P/HANDCOCK_M,
  HUNTER_D/HANDCOCK_M, HANDCOCK_M/POTTER_G}
  \draw[e] (\a) -- (\b);
\draw[ep] (KRETZSCH_M) -- (WIESSING_L) (KRETZSCH_M) -- (MORRIS_M) (MORRIS_M) -- (CHUA_R);
\draw[ew] (HANDCOCK_M) -- (GILE_K);

% ---- lavender group
\foreach \n/\x/\y in {JAVED_I/306/1341, AFZAL_H/341/1341, LATIF_M/375/1341,
  ADNAN_M/409/1341, MIAH_M/432/1341, ABUZIDEN_A/456/1341, KARIM_M/478/1341,
  POTHARAJ_R/513/1341, ALHAMID_M/306/1384, MUHAMMAD_G/341/1384, HOSSAIN_M/375/1384,
  RAHMAN_M/444/1384, CARBUNAR_B/478/1384, SULTANA_M/513/1384, ALIMTIAZ_A/306/1428,
  VEENSTRA_A/341/1428, SAINI_M/375/1428, ELSADDIK_A/409/1428, GUEAIEB_W/444/1428,
  GAVRILOV_M/478/1428, PAUL_P/513/1428}
  \node[au=lavender, label={[lab]70:\n}] (\n) at (\x,\y) {};
\foreach \a/\b in {JAVED_I/AFZAL_H, LATIF_M/ADNAN_M, ADNAN_M/RAHMAN_M, MIAH_M/RAHMAN_M,
  ABUZIDEN_A/RAHMAN_M, KARIM_M/RAHMAN_M, MUHAMMAD_G/HOSSAIN_M, HOSSAIN_M/ALIMTIAZ_A,
  HOSSAIN_M/VEENSTRA_A, RAHMAN_M/CARBUNAR_B, CARBUNAR_B/POTHARAJ_R, RAHMAN_M/ELSADDIK_A,
  RAHMAN_M/GUEAIEB_W, ELSADDIK_A/GUEAIEB_W, RAHMAN_M/GAVRILOV_M, GAVRILOV_M/SULTANA_M,
  SULTANA_M/PAUL_P}
  \draw[e] (\a) -- (\b);
\draw[ep] (AFZAL_H) -- (LATIF_M) (ALHAMID_M) -- (MUHAMMAD_G) (HOSSAIN_M) -- (RAHMAN_M);
\draw[ew] (GAVRILOV_M) -- (PAUL_P);

% ---- pale blue group
\foreach \n/\x/\y in {NGUYEN_H/565/1341, DINH_T/599/1341, XI_Y/668/1341,
  JUNG_J/565/1384, NGUYEN_D/599/1384, THAI_M/633/1384, ZHANG_H/668/1384,
  HWANG_D/565/1428, HONG_M/599/1428, NGUYEN_N/633/1428, CHEN_J/668/1428}
  \node[au=paleblue, label={[lab]70:\n}] (\n) at (\x,\y) {};
\foreach \a/\b in {JUNG_J/HONG_M, JUNG_J/HWANG_D, XI_Y/ZHANG_H, ZHANG_H/CHEN_J}
  \draw[e] (\a) -- (\b);
\draw[ep, line width=2.6pt] (NGUYEN_H) -- (DINH_T) (THAI_M) -- (ZHANG_H);
\draw[ew] (NGUYEN_H) -- (JUNG_J) (JUNG_J) -- (NGUYEN_D) (THAI_M) -- (NGUYEN_N);
\draw[ewxx] (DINH_T) -- (THAI_M);

% ---- small right-hand groups
\foreach \n/\x/\y in {ROY_W/708/1160, BONACICH_P/742/1160, LLOYD_P/777/1160,
  BIENENST_E/742/1203, GLANVILL_J/777/1203}
  \node[au=steel, label={[lab]70:\n}] (\n) at (\x,\y) {};
\draw[e] (ROY_W) -- (BONACICH_P) (BIENENST_E) -- (GLANVILL_J);
\draw[ew] (BONACICH_P) -- (LLOYD_P);
\draw[ewxx] (BONACICH_P) -- (BIENENST_E);
\foreach \n/\x/\y in {ESTRADA_E/742/1276, RODRIGUE_J/777/1276, BENZI_M/742/1319,
  HATANO_N/777/1319}
  \node[au=azure, label={[lab]70:\n}] (\n) at (\x,\y) {};
\draw[e] (ESTRADA_E) -- (BENZI_M) (ESTRADA_E) -- (HATANO_N);
\draw[ep, line width=2.6pt] (ESTRADA_E) -- (RODRIGUE_J);
\foreach \n/\x/\y in {CONTRACT_N/742/1384, SCHECTER_A/777/1384, DECHURCH_L/742/1428,
  SU_C/777/1428}
  \node[au=salmon, label={[lab]70:\n}] (\n) at (\x,\y) {};
\draw[e] (CONTRACT_N) -- (SCHECTER_A) (CONTRACT_N) -- (DECHURCH_L);
\draw[ew] (CONTRACT_N) -- (SU_C);
\end{tikzpicture}
\end{document}
